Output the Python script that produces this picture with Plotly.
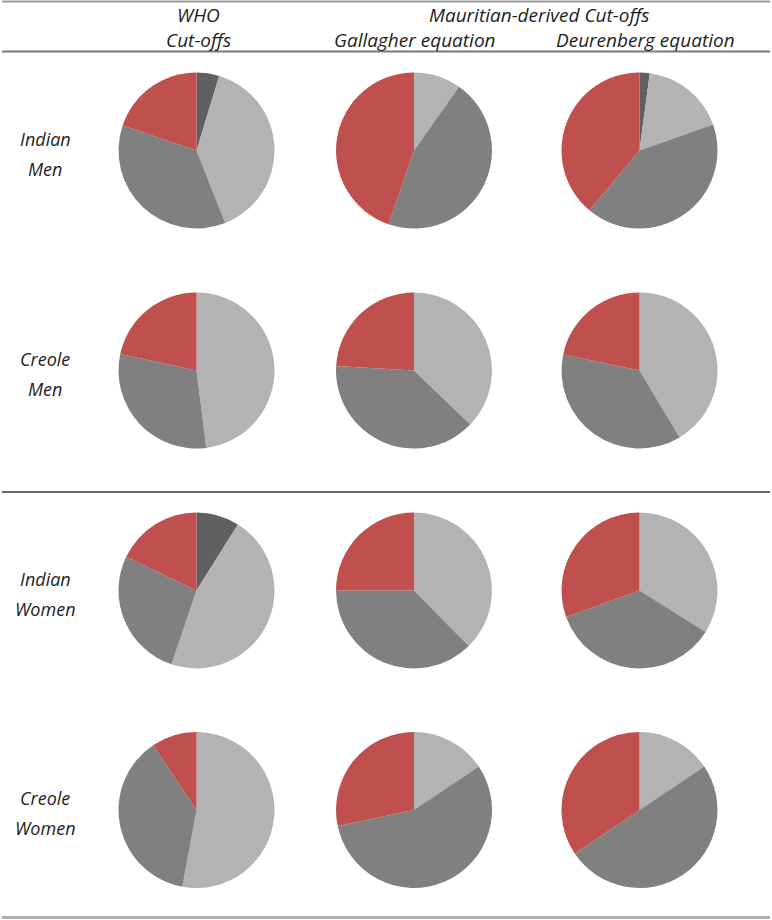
import plotly.graph_objects as go

# BMI categories, clockwise from 12 o'clock
categories = ["Underweight", "Normal", "Overweight", "Obese"]
colors = ["#606060", "#b3b3b3", "#808080", "#c0504d"]

row_labels = ["Indian<br>Men", "Creole<br>Men", "Indian<br>Women", "Creole<br>Women"]
col_labels = ["WHO<br>Cut-offs", "Gallagher equation", "Deurenberg equation"]
group_label = "Mauritian-derived Cut-offs"

# % per category, [row][col]
shares = [
    [[4.7, 39.3, 36.2, 19.8], [0, 9.8, 45.5, 44.7], [2.1, 17.5, 41.5, 38.9]],
    [[0, 48.0, 30.4, 21.6], [0, 37.2, 38.7, 24.1], [0, 41.4, 36.9, 21.7]],
    [[8.9, 46.3, 26.9, 17.9], [0, 37.6, 37.4, 25.0], [0, 33.9, 35.6, 30.5]],
    [[0, 52.9, 37.7, 9.4], [0, 15.6, 56.1, 28.3], [0, 15.6, 50.0, 34.4]],
]

W, H = 772, 920
col_x = [196.5, 414, 639.5]
row_y = [150.5, 370.5, 590.5, 810]
r = 78

fig = go.Figure()
for i, row in enumerate(shares):
    for j, vals in enumerate(row):
        cx, cy = col_x[j], row_y[i]
        fig.add_trace(go.Pie(
            labels=categories, values=vals, sort=False, direction="clockwise",
            rotation=0, textinfo="none", showlegend=False,
            marker=dict(colors=colors, line=dict(width=0)),
            domain=dict(x=[(cx - r) / W, (cx + r) / W],
                        y=[1 - (cy + r) / H, 1 - (cy - r) / H]),
        ))

def add_text(txt, x, y, gap, size):
    lines = txt.split("<br>")
    n = len(lines)
    for k, ln in enumerate(lines):
        yy = y + (k - (n - 1) / 2) * gap
        fig.add_annotation(text="<i>" + ln + "</i>", x=x / W, y=1 - yy / H,
                           xref="paper", yref="paper", showarrow=False,
                           font=dict(family="Open Sans", size=size, color="#1e1e1e"),
                           xanchor="center", yanchor="middle")

add_text(col_labels[0], 198, 27.5, 25, 19)
add_text(group_label, 539, 15, 25, 19)
add_text(col_labels[1], 415, 40, 25, 19)
add_text(col_labels[2], 645, 40, 25, 19)
for i, lab in enumerate(row_labels):
    add_text(lab, 45, row_y[i] + 3, 30, 18)

def hline(y, color, w):
    fig.add_shape(type="line", xref="paper", yref="paper",
                  x0=2 / W, x1=770 / W, y0=1 - y / H, y1=1 - y / H,
                  line=dict(color=color, width=w))

hline(1.5, "#9a9a9a", 2)
hline(51.5, "#7a7a7a", 2)
hline(492, "#6a6a6a", 2)
hline(917.5, "#b0b0b0", 3)

fig.update_layout(width=W, height=H, margin=dict(l=0, r=0, t=0, b=0),
                  paper_bgcolor="white", plot_bgcolor="white")
fig.write_html("out.html", config={"displayModeBar": False},
               post_script="document.body.style.margin='0';")
